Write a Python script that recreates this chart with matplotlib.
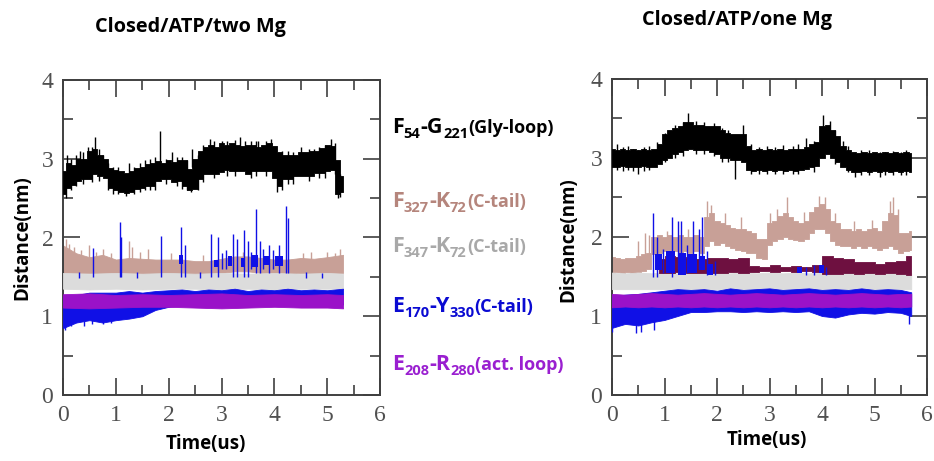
import numpy as np
import matplotlib
matplotlib.use("Agg")
import matplotlib.pyplot as plt

# ---- distance traces, two Mg (left) ----------------------------------------
T_L_BLACK = np.round(np.arange(0, 5.31, 0.1), 1)
L_BLACK_LO = [2.55, 2.63, 2.67, 2.72, 2.74, 2.74, 2.80, 2.78, 2.75, 2.63,
              2.60, 2.58, 2.56, 2.58, 2.62, 2.63, 2.66, 2.66, 2.72, 2.74,
              2.74, 2.71, 2.72, 2.66, 2.60, 2.62, 2.74, 2.80, 2.80, 2.80,
              2.83, 2.86, 2.84, 2.84, 2.84, 2.80, 2.84, 2.84, 2.84, 2.84,
              2.76, 2.66, 2.74, 2.74, 2.78, 2.78, 2.78, 2.78, 2.82, 2.82,
              2.84, 2.86, 2.55, 2.58]
L_BLACK_HI = [2.85, 2.95, 2.92, 3.00, 3.00, 3.10, 3.12, 3.05, 3.00, 2.88,
              2.86, 2.85, 2.82, 2.85, 2.88, 2.90, 2.93, 2.95, 2.97, 2.95,
              2.98, 2.96, 2.98, 2.98, 2.87, 3.00, 3.10, 3.15, 3.18, 3.15,
              3.20, 3.18, 3.20, 3.18, 3.16, 3.18, 3.18, 3.15, 3.18, 3.20,
              3.16, 3.08, 3.05, 3.05, 3.05, 3.08, 3.08, 3.10, 3.10, 3.14,
              3.18, 3.16, 2.98, 2.78]
L_BLACK_SPIKES = [(0.05, 2.50, 2.80), (0.07, 2.80, 3.05), (0.15, 2.60, 3.00),
                  (0.25, 2.65, 3.05), (0.32, 2.90, 3.10), (0.38, 2.68, 3.08),
                  (0.47, 2.95, 3.15), (0.55, 2.70, 3.15), (0.60, 3.00, 3.27),
                  (0.68, 2.72, 3.12), (0.75, 2.90, 3.05), (0.85, 2.60, 2.95),
                  (0.95, 2.55, 2.90), (1.05, 2.55, 2.90), (1.20, 2.53, 2.70),
                  (1.25, 2.80, 2.95), (1.35, 2.55, 2.90), (1.45, 2.58, 2.95),
                  (1.55, 2.60, 2.98), (1.65, 2.60, 3.00), (1.75, 2.60, 3.02),
                  (1.83, 2.85, 3.35), (1.95, 2.68, 3.00), (2.07, 2.90, 3.08),
                  (2.15, 2.65, 3.02), (2.25, 2.62, 3.02), (2.35, 2.60, 2.98),
                  (2.42, 2.58, 2.75), (2.45, 2.90, 3.12), (2.55, 2.60, 3.05),
                  (2.65, 2.70, 3.18), (2.78, 3.00, 3.25), (2.85, 2.75, 3.22),
                  (3.00, 3.00, 3.23), (3.10, 2.78, 3.22), (3.25, 2.78, 3.24),
                  (3.35, 3.00, 3.27), (3.45, 3.00, 3.22), (3.55, 2.75, 3.22),
                  (3.65, 2.78, 3.22), (3.70, 3.00, 3.23), (3.85, 2.78, 3.22),
                  (3.93, 3.00, 3.25), (4.05, 2.58, 2.80), (4.15, 2.60, 3.10),
                  (4.25, 2.68, 3.10), (4.35, 2.68, 3.08), (4.50, 3.00, 3.15),
                  (4.65, 2.72, 3.12), (4.75, 3.00, 3.12), (4.85, 2.75, 3.15),
                  (4.95, 2.76, 3.18), (5.07, 3.00, 3.25), (5.15, 2.80, 3.20),
                  (5.20, 2.50, 2.70), (5.25, 2.52, 2.80)]

T_L_BROWN = [0, 0.25, 0.5, 0.75, 1.0, 1.25, 1.5, 1.75, 2.0, 2.25, 2.5,
             2.75, 3.0, 3.25, 3.5, 3.75, 4.0, 4.25, 4.5, 4.75, 5.0, 5.3]
L_BROWN_LO = [1.52, 1.55, 1.55, 1.53, 1.54, 1.55, 1.54, 1.53, 1.54, 1.53, 1.53,
              1.54, 1.55, 1.57, 1.57, 1.55, 1.54, 1.53, 1.55, 1.54, 1.55, 1.55]
L_BROWN_HI = [1.90, 1.80, 1.75, 1.78, 1.72, 1.74, 1.73, 1.72, 1.72, 1.72, 1.70,
              1.70, 1.73, 1.76, 1.76, 1.74, 1.72, 1.72, 1.74, 1.73, 1.75, 1.78]
L_BROWN_SPIKES = [(0.05, 1.75, 1.98), (0.12, 1.72, 1.92), (0.20, 1.70, 1.88),
                  (0.35, 1.70, 1.84), (0.50, 1.70, 1.90), (0.62, 1.70, 1.82),
                  (0.75, 1.70, 1.85), (0.90, 1.68, 1.80), (1.25, 1.70, 1.95),
                  (1.30, 1.70, 1.88), (1.45, 1.68, 1.82), (1.60, 1.70, 1.85),
                  (2.05, 1.68, 1.80), (2.65, 1.66, 1.78), (3.40, 1.70, 1.82),
                  (4.55, 1.70, 1.80), (4.70, 1.70, 1.82), (5.00, 1.70, 1.82),
                  (5.15, 1.70, 1.80), (5.25, 1.70, 1.85)]

T_L_GREY = [0, 0.5, 1.0, 1.5, 2.0, 2.5, 3.0, 3.5, 4.0, 4.5, 5.0, 5.3]
L_GREY_LO = [1.35, 1.34, 1.35, 1.34, 1.35, 1.35, 1.34, 1.35, 1.34, 1.35, 1.35, 1.35]
L_GREY_HI = [1.55, 1.54, 1.55, 1.54, 1.55, 1.54, 1.55, 1.54, 1.55, 1.54, 1.55, 1.54]

T_L_BLUE = T_L_BROWN
L_BLUE_LO = [0.85, 0.92, 0.95, 0.92, 0.95, 0.97, 1.00, 1.08, 1.12, 1.14, 1.15,
             1.15, 1.15, 1.15, 1.15, 1.15, 1.15, 1.15, 1.15, 1.15, 1.15, 1.15]
L_BLUE_HI = [1.25, 1.27, 1.30, 1.30, 1.30, 1.32, 1.30, 1.32, 1.33, 1.34, 1.32,
             1.34, 1.33, 1.35, 1.32, 1.34, 1.33, 1.35, 1.33, 1.34, 1.33, 1.35]
# (start, end, low, high) stretches where E170-Y330 sits in the upper state
L_BLUE_UPPER = [(2.20, 2.28, 1.66, 1.78), (2.86, 2.94, 1.62, 1.72),
                (3.12, 3.20, 1.64, 1.76), (3.36, 3.44, 1.62, 1.74),
                (3.56, 3.70, 1.63, 1.78), (3.80, 3.92, 1.65, 1.76),
                (4.02, 4.16, 1.64, 1.76)]
L_BLUE_SPIKES = [(0.03, 0.82, 1.0), (0.15, 0.88, 1.0), (0.40, 0.88, 1.0),
                 (0.55, 0.90, 1.0), (0.75, 0.90, 1.0), (0.90, 0.92, 1.05),
                 (0.57, 1.50, 1.87), (1.08, 1.50, 2.20), (1.10, 1.50, 2.00),
                 (1.86, 1.50, 2.02), (2.24, 1.50, 2.13), (2.30, 1.50, 1.90),
                 (2.80, 1.50, 2.05), (2.93, 1.50, 2.00), (3.00, 1.60, 1.80),
                 (3.08, 1.60, 1.84), (3.21, 1.50, 2.05), (3.30, 1.50, 1.98),
                 (3.43, 1.50, 2.10), (3.50, 1.50, 1.95), (3.55, 1.60, 1.82),
                 (3.65, 1.55, 2.36), (3.72, 1.55, 1.95), (3.78, 1.60, 1.86),
                 (3.90, 1.55, 1.90), (3.97, 1.60, 1.84), (4.09, 1.55, 1.91),
                 (4.22, 1.55, 2.40), (4.26, 1.55, 2.25),
                 (0.30, 1.48, 1.56), (1.40, 1.48, 1.56), (2.60, 1.48, 1.56),
                 (4.60, 1.48, 1.56), (4.90, 1.48, 1.55)]

T_L_PURPLE = T_L_GREY
L_PURPLE_LO = [1.11, 1.10, 1.11, 1.12, 1.12, 1.11, 1.10, 1.11, 1.12, 1.11, 1.11, 1.10]
L_PURPLE_HI = [1.28, 1.29, 1.27, 1.28, 1.27, 1.28, 1.29, 1.27, 1.28, 1.27, 1.28, 1.27]

# ---- distance traces, one Mg (right) ---------------------------------------
T_R_FINE = np.round(np.arange(0, 5.71, 0.1), 1)
R_BLACK_LO = [2.88, 2.88, 2.90, 2.88, 2.89, 2.88, 2.90, 2.88, 2.89, 2.92,
              2.98, 3.00, 3.05, 3.08, 3.10, 3.12, 3.10, 3.10, 3.10, 3.08,
              3.05, 3.00, 3.00, 2.98, 2.98, 2.95, 2.85, 2.84, 2.85, 2.84,
              2.85, 2.84, 2.85, 2.84, 2.85, 2.84, 2.85, 2.86, 2.88, 2.90,
              3.00, 3.05, 3.00, 2.95, 2.88, 2.85, 2.82, 2.82, 2.83, 2.82,
              2.83, 2.82, 2.83, 2.82, 2.83, 2.82, 2.83, 2.82]
R_BLACK_HI = [3.12, 3.10, 3.12, 3.10, 3.11, 3.10, 3.12, 3.10, 3.12, 3.18,
              3.30, 3.35, 3.38, 3.40, 3.45, 3.45, 3.42, 3.42, 3.40, 3.40,
              3.40, 3.35, 3.32, 3.30, 3.30, 3.30, 3.15, 3.10, 3.11, 3.10,
              3.11, 3.10, 3.12, 3.10, 3.11, 3.12, 3.12, 3.14, 3.18, 3.20,
              3.40, 3.42, 3.35, 3.28, 3.15, 3.10, 3.08, 3.06, 3.07, 3.06,
              3.07, 3.06, 3.07, 3.06, 3.07, 3.06, 3.07, 3.06]
R_BLACK_SPIKES = [(0.10, 2.85, 3.18), (0.20, 2.84, 3.14), (0.30, 2.85, 3.15),
                  (0.40, 2.84, 3.12), (0.50, 2.80, 3.10), (0.60, 2.84, 3.14),
                  (0.70, 2.85, 3.15), (0.85, 2.95, 3.20), (1.00, 2.95, 3.32),
                  (1.20, 3.00, 3.42), (1.35, 3.02, 3.45), (1.45, 3.30, 3.57),
                  (1.60, 3.05, 3.47), (1.75, 3.05, 3.45), (1.95, 3.02, 3.44),
                  (2.10, 2.95, 3.38), (2.20, 2.95, 3.36), (2.35, 2.74, 3.00),
                  (2.50, 3.20, 3.42), (2.65, 2.80, 3.18), (2.80, 2.80, 3.14),
                  (2.95, 2.80, 3.15), (3.10, 2.80, 3.14), (3.25, 2.80, 3.16),
                  (3.45, 2.80, 3.15), (3.55, 2.80, 3.18), (3.70, 3.00, 3.25),
                  (3.85, 2.82, 3.22), (4.02, 3.20, 3.55), (4.15, 3.20, 3.47),
                  (4.25, 2.92, 3.35), (4.40, 2.90, 3.22), (4.50, 2.82, 3.15),
                  (4.62, 2.76, 2.90), (4.75, 2.78, 3.10), (4.90, 2.78, 3.10),
                  (5.10, 2.76, 3.08), (5.20, 2.78, 3.08), (5.35, 2.78, 3.09),
                  (5.50, 2.78, 3.08), (5.60, 2.78, 3.10)]

R_BROWN_LO = [1.55, 1.56, 1.55, 1.56, 1.55, 1.56, 1.57, 1.60, 1.78, 1.80,
              1.82, 1.80, 1.82, 1.80, 1.82, 1.80, 1.82, 1.80, 1.88, 1.95,
              1.90, 1.92, 1.88, 1.86, 1.84, 1.82, 1.80, 1.80, 1.74, 1.72,
              1.90, 1.95, 1.98, 2.00, 1.98, 1.96, 1.95, 1.98, 2.05, 2.10,
              2.10, 2.05, 1.95, 1.90, 1.88, 1.88, 1.86, 1.88, 1.86, 1.88,
              1.86, 1.84, 1.86, 1.88, 1.85, 1.80, 1.82, 1.84]
R_BROWN_HI = [1.75, 1.74, 1.72, 1.74, 1.73, 1.76, 1.78, 1.80, 2.00, 2.02,
              2.00, 2.02, 2.00, 2.02, 2.00, 2.00, 2.02, 2.00, 2.25, 2.30,
              2.20, 2.18, 2.15, 2.12, 2.10, 2.10, 2.08, 2.05, 1.98, 1.98,
              2.18, 2.20, 2.26, 2.30, 2.25, 2.20, 2.18, 2.20, 2.32, 2.38,
              2.42, 2.35, 2.20, 2.18, 2.10, 2.10, 2.08, 2.10, 2.08, 2.10,
              2.12, 2.08, 2.20, 2.30, 2.28, 2.05, 2.05, 2.08]
R_BROWN_SPIKES = [(0.50, 1.70, 1.95), (0.62, 1.75, 2.05), (0.70, 1.75, 2.02),
                  (1.05, 1.90, 2.08), (1.45, 1.90, 2.10), (1.80, 2.00, 2.45),
                  (1.88, 2.00, 2.40), (2.15, 2.05, 2.30), (2.45, 2.00, 2.25),
                  (3.00, 2.00, 2.30), (3.15, 2.10, 2.35), (3.33, 2.10, 2.50),
                  (3.65, 2.05, 2.32), (3.95, 2.20, 2.52), (4.05, 2.20, 2.50),
                  (4.25, 2.05, 2.30), (4.60, 1.95, 2.20), (4.95, 1.95, 2.22),
                  (5.30, 2.10, 2.45), (5.35, 2.10, 2.50), (5.45, 2.05, 2.35)]

T_R_MAROON = [0.9, 1.1, 1.3, 1.5, 1.7, 1.9, 2.1, 2.3, 2.5, 2.7, 2.9, 3.1, 3.3,
              3.5, 3.7, 3.9, 4.1, 4.3, 4.5, 4.7, 4.9, 5.1, 5.3, 5.5, 5.7]
R_MAROON_LO = [1.55, 1.55, 1.56, 1.55, 1.55, 1.55, 1.55, 1.56, 1.55, 1.56, 1.57,
               1.56, 1.57, 1.56, 1.57, 1.56, 1.53, 1.53, 1.54, 1.53, 1.54, 1.53,
               1.54, 1.53, 1.52]
R_MAROON_HI = [1.72, 1.76, 1.75, 1.74, 1.72, 1.74, 1.74, 1.72, 1.73, 1.63, 1.62,
               1.64, 1.62, 1.63, 1.62, 1.64, 1.76, 1.74, 1.72, 1.68, 1.68, 1.66,
               1.68, 1.70, 1.76]

T_R_COARSE = [0, 0.25, 0.5, 0.75, 1.0, 1.25, 1.5, 1.75, 2.0, 2.25, 2.5, 2.75,
              3.0, 3.25, 3.5, 3.75, 4.0, 4.25, 4.5, 4.75, 5.0, 5.25, 5.5, 5.7]
R_BLUE_LO = [0.85, 0.90, 0.88, 0.92, 0.95, 1.00, 1.05, 1.05, 1.06, 1.06, 1.05, 1.06,
             1.05, 1.06, 1.05, 1.06, 1.00, 0.98, 1.02, 1.04, 1.03, 1.05, 1.04, 1.00]
R_BLUE_HI = [1.25, 1.27, 1.28, 1.30, 1.32, 1.34, 1.33, 1.34, 1.32, 1.35, 1.33, 1.34,
             1.35, 1.33, 1.34, 1.35, 1.33, 1.34, 1.33, 1.35, 1.33, 1.34, 1.33, 1.30]
R_BLUE_UPPER = [(0.82, 0.95, 1.58, 1.78), (1.02, 1.20, 1.55, 1.82),
                (1.25, 1.40, 1.52, 1.80), (1.45, 1.62, 1.55, 1.78),
                (1.66, 1.78, 1.58, 1.76), (1.82, 1.92, 1.52, 1.66),
                (3.52, 3.62, 1.54, 1.62), (3.94, 4.04, 1.54, 1.64)]
R_BLUE_SPIKES = [(0.00, 0.80, 1.00), (0.45, 0.78, 1.00), (0.55, 0.80, 0.95),
                 (0.80, 0.82, 1.00), (5.65, 0.90, 1.10),
                 (0.78, 1.50, 2.30), (0.85, 1.50, 2.00), (0.98, 1.55, 1.85),
                 (1.15, 1.50, 2.25), (1.25, 1.60, 2.20), (1.32, 1.60, 2.20),
                 (1.42, 1.55, 1.90), (1.55, 1.60, 2.20), (1.65, 1.60, 2.10),
                 (1.72, 1.60, 2.25), (1.80, 1.52, 1.82), (1.96, 1.52, 1.70),
                 (3.70, 1.52, 1.62), (3.85, 1.52, 1.64), (4.08, 1.52, 1.62)]

R_GREY_LO = [1.34] * len(T_R_COARSE)
R_GREY_HI = [1.55, 1.54, 1.55, 1.54, 1.55, 1.54, 1.55, 1.54, 1.55, 1.54, 1.55, 1.54,
             1.55, 1.54, 1.55, 1.54, 1.55, 1.54, 1.55, 1.54, 1.55, 1.54, 1.55, 1.54]
R_PURPLE_LO = [1.11, 1.12, 1.11, 1.12, 1.11, 1.12, 1.11, 1.12, 1.11, 1.12, 1.11, 1.12,
               1.11, 1.12, 1.11, 1.12, 1.11, 1.12, 1.11, 1.12, 1.11, 1.12, 1.11, 1.12]
R_PURPLE_HI = [1.28, 1.27, 1.28, 1.29, 1.28, 1.27, 1.28, 1.29, 1.28, 1.27, 1.28, 1.29,
               1.28, 1.27, 1.28, 1.29, 1.28, 1.27, 1.28, 1.29, 1.28, 1.27, 1.28, 1.28]

TITLES = ["Closed/ATP/two Mg", "Closed/ATP/one Mg"]

BLACK = "#000000"
BROWN = "#c8a097"
GREY = "#dcdcdc"
BLUE = "#1010e6"
PURPLE = "#9a12c8"
MAROON = "#6e1040"

SANS = "Open Sans"
SERIF = "Liberation Serif"


def band(ax, t, lo, hi, color, step=None, z=2):
    ax.fill_between(t, lo, hi, color=color, lw=0.6, edgecolor=color, step=step, zorder=z)


def spikes(ax, items, color, z=2):
    for t, lo, hi in items:
        ax.vlines(t, lo, hi, color=color, lw=1.0, zorder=z)


def segments(ax, items, color, z=2):
    for t0, t1, lo, hi in items:
        ax.fill_between([t0, t1], [lo, lo], [hi, hi], color=color, lw=0, zorder=z)


def style_axes(ax):
    ax.set_xlim(0, 6)
    ax.set_ylim(0, 4)
    ax.set_xticks(range(0, 7))
    ax.set_yticks(range(0, 5))
    ax.set_xticks(np.arange(0.5, 6, 1), minor=True)
    ax.set_yticks(np.arange(0.5, 4, 1), minor=True)
    ax.tick_params(which="both", direction="in", top=True, right=True,
                   color="#404040", width=1.2)
    ax.tick_params(which="major", length=12, labelsize=17, labelcolor="#505050", pad=7)
    ax.tick_params(which="minor", length=7)
    for lab in ax.get_xticklabels() + ax.get_yticklabels():
        lab.set_family(SERIF)
    for sp in ax.spines.values():
        sp.set_color("#404040")
        sp.set_linewidth(1.4)


fig = plt.figure(figsize=(9.34, 4.61), dpi=100)
W, H = 934, 461
ax_l = fig.add_axes([63 / W, 1 - 395 / H, 317 / W, 315 / H])
ax_r = fig.add_axes([612 / W, 1 - 395 / H, 315 / W, 316 / H])

# left panel
band(ax_l, T_L_BROWN, L_BROWN_LO, L_BROWN_HI, BROWN, z=2)
spikes(ax_l, L_BROWN_SPIKES, BROWN, z=2)
band(ax_l, T_L_GREY, L_GREY_LO, L_GREY_HI, GREY, z=3)
band(ax_l, T_L_BLUE, L_BLUE_LO, L_BLUE_HI, BLUE, z=4)
segments(ax_l, L_BLUE_UPPER, BLUE, z=4)
spikes(ax_l, L_BLUE_SPIKES, BLUE, z=4)
band(ax_l, T_L_PURPLE, L_PURPLE_LO, L_PURPLE_HI, PURPLE, z=5)
band(ax_l, T_L_BLACK, L_BLACK_LO, L_BLACK_HI, BLACK, step="mid", z=6)
spikes(ax_l, L_BLACK_SPIKES, BLACK, z=6)

# right panel
band(ax_r, T_R_FINE, R_BROWN_LO, R_BROWN_HI, BROWN, step="mid", z=2)
spikes(ax_r, R_BROWN_SPIKES, BROWN, z=2)
band(ax_r, T_R_COARSE, R_GREY_LO, R_GREY_HI, GREY, z=3)
band(ax_r, T_R_MAROON, R_MAROON_LO, R_MAROON_HI, MAROON, step="mid", z=3)
band(ax_r, T_R_COARSE, R_BLUE_LO, R_BLUE_HI, BLUE, z=4)
segments(ax_r, R_BLUE_UPPER, BLUE, z=4)
spikes(ax_r, R_BLUE_SPIKES, BLUE, z=4)
band(ax_r, T_R_COARSE, R_PURPLE_LO, R_PURPLE_HI, PURPLE, z=5)
band(ax_r, T_R_FINE, R_BLACK_LO, R_BLACK_HI, BLACK, step="mid", z=6)
spikes(ax_r, R_BLACK_SPIKES, BLACK, z=6)

for ax in (ax_l, ax_r):
    style_axes(ax)

# titles and axis labels
fig.text(190 / W, 1 - 27 / H, TITLES[0], ha="center", va="center",
         family=SANS, fontweight="bold", fontsize=14.3)
fig.text(737 / W, 1 - 20 / H, TITLES[1], ha="center", va="center",
         family=SANS, fontweight="bold", fontsize=14.3)
for xp, yp in [(22, 238), (568, 240)]:
    fig.text(xp / W, 1 - yp / H, "Distance(nm)", rotation=90, ha="center", va="center",
             family=SANS, fontweight="bold", fontsize=13.5)
for xp, yp in [(206, 444), (767, 440)]:
    fig.text(xp / W, 1 - yp / H, "Time(us)", ha="center", va="center",
             family=SANS, fontweight="bold", fontsize=13.5)

# pair labels with subscripts, built piece by piece
renderer = fig.canvas.get_renderer()


def rich_label(x_px, y_px, parts, color):
    x = x_px
    for s, size, dy in parts:
        t = fig.text(x / W, 1 - (y_px + dy) / H, s, fontsize=size, fontweight="bold",
                     family=SANS, color=color, ha="left", va="baseline")
        x += t.get_window_extent(renderer).width


MAIN, SUB, NOTE = 15.5, 10.5, 13
LABELS = [
    (133, [("F", MAIN, 0), ("54", SUB, 5), ("-G", MAIN, 0), ("221", SUB, 5), ("(Gly-loop)", NOTE, 0)], BLACK),
    (207, [("F", MAIN, 0), ("327", SUB, 5), ("-K", MAIN, 0), ("72", SUB, 5), ("(C-tail)", NOTE, 0)], "#b5857c"),
    (252, [("F", MAIN, 0), ("347", SUB, 5), ("-K", MAIN, 0), ("72", SUB, 5), ("(C-tail)", NOTE, 0)], "#a8a8a8"),
    (312, [("E", MAIN, 0), ("170", SUB, 5), ("-Y", MAIN, 0), ("330", SUB, 5), ("(C-tail)", NOTE, 0)], "#0a0ad2"),
    (370, [("E", MAIN, 0), ("208", SUB, 5), ("-R", MAIN, 0), ("280", SUB, 5), ("(act. loop)", NOTE, 0)], "#9a1fd0"),
]
for yp, parts, col in LABELS:
    rich_label(392, yp, parts, col)

fig.savefig("out.png", dpi=100)
